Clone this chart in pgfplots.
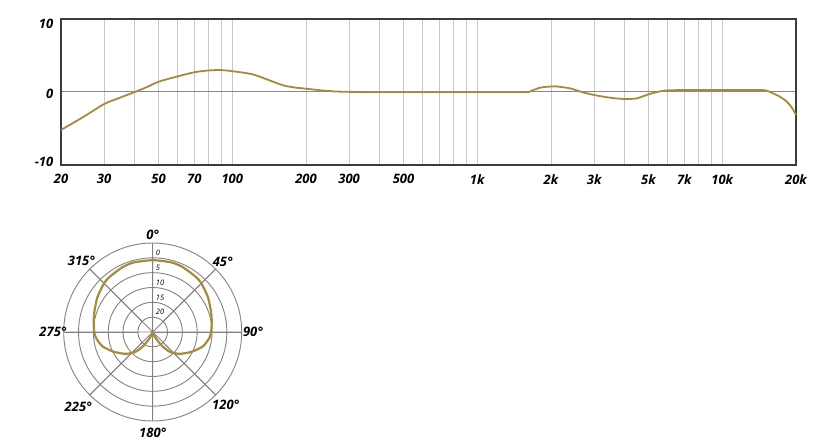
\documentclass[border=0pt]{standalone}
\usepackage{pgfplots}
\pgfplotsset{compat=1.18}
\usepgfplotslibrary{polar}
\usepackage{fontspec}
\setmainfont{Open Sans}

\definecolor{curve}{RGB}{168,138,62}
\definecolor{gridlight}{RGB}{200,200,200}
\definecolor{zeroline}{RGB}{135,135,135}
\definecolor{frame}{RGB}{60,60,60}
\definecolor{polgrid}{RGB}{130,130,130}

\newcommand{\tl}{\fontsize{13}{15}\selectfont\bfseries\itshape}
\newcommand{\rl}{\fontsize{7.5}{9}\selectfont\itshape}

\begin{document}
\begin{tikzpicture}
\path (0,0) rectangle (820pt,442pt);

% frequency response
\begin{semilogxaxis}[
    at={(61pt,277pt)}, anchor=south west,
    scale only axis, width=735pt, height=146pt,
    xmin=20, xmax=20000, ymin=-10, ymax=10,
    xtick={20,30,50,70,100,200,300,500,1000,2000,3000,5000,7000,10000,20000},
    xticklabels={20,30,50,70,100,200,300,500,1k,2k,3k,5k,7k,10k,20k},
    minor xtick={30,40,50,60,70,80,90,100,200,300,400,500,600,700,800,900,1000,2000,3000,4000,5000,6000,7000,8000,9000,10000},
    ytick={-10,0,10}, yticklabel=\empty,
    xminorgrids, ymajorgrids,
    minor grid style={draw=gridlight, line width=1pt},
    major grid style={draw=zeroline, line width=1pt},
    major tick length=0pt, minor tick length=0pt,
    tick label style={font=\tl},
    xticklabel style={anchor=north, yshift=-6pt},
    axis line style={draw=frame, line width=1.5pt},
    clip=false,
]
\addplot[curve, line width=1.8pt, smooth, tension=0.5] coordinates {
    (20,-5.2) (25,-3.3) (30,-1.65) (35,-0.75) (40,0) (45,0.7) (50,1.4)
    (60,2.15) (70,2.7) (80,2.95) (90,3.0) (100,2.85) (120,2.45) (138,1.75)
    (160,0.95) (177,0.65) (200,0.45) (250,0.12) (300,0.02) (400,0)
    (1000,0) (1560,0) (1650,0.12) (1720,0.35) (1800,0.58) (1900,0.7)
    (2000,0.75) (2080,0.78) (2390,0.5) (2670,0) (3000,-0.41) (3480,-0.78)
    (4000,-0.96) (4480,-0.87) (5000,-0.32) (5570,0.09) (6000,0.23)
    (7000,0.26) (10000,0.27) (14200,0.27) (15200,0.18) (16100,-0.18)
    (17200,-0.64) (18300,-1.3) (19200,-2.1) (20000,-3.15)
};
\node[font=\tl, anchor=east, inner sep=0pt, xshift=-7.5pt] at (axis cs:20,9.35) {10};
\node[font=\tl, anchor=east, inner sep=0pt, xshift=-7.5pt] at (axis cs:20,-0.25) {0};
\node[font=\tl, anchor=east, inner sep=0pt, xshift=-7.5pt] at (axis cs:20,-9.55) {-10};
\end{semilogxaxis}

% polar pattern
\begin{polaraxis}[
    at={(152.7pt,110pt)}, anchor=center,
    scale only axis, width=178pt, height=178pt,
    ymin=0, ymax=30,
    xtick={0,45,90,135,180,225,270,315}, xticklabel=\empty,
    ytick={5,10,15,20,25}, yticklabel=\empty,
    ymajorgrids,
    major grid style={draw=polgrid, line width=0.9pt},
    axis line style={draw=polgrid, line width=0.9pt},
    major tick length=0pt,
    clip=false,
]
\pgfplotsinvokeforeach{0,45,90,135,180,225,270,315}{
    \draw[polgrid, line width=0.9pt] (axis cs:#1,5) -- (axis cs:#1,30);
}
\addplot[curve, line width=2.2pt, smooth, tension=0.4] coordinates {
    (-90,0) (-80,0.3) (-70,1.0) (-62,2.8) (-56,5.7) (-49,8.9) (-39,11.7)
    (-27,14.7) (-16,17.6) (-6,19.2) (0,19.7) (10,20.2) (19,20.8) (32,22.0)
    (45,23.2) (52,23.6) (65,24.1) (75,24.3) (90,24.2)
    (105,24.3) (115,24.1) (128,23.6) (135,23.2) (148,22.0) (161,20.8)
    (170,20.2) (180,19.7) (186,19.2) (196,17.6) (207,14.7) (219,11.7)
    (229,8.9) (236,5.7) (242,2.8) (250,1.0) (260,0.3) (270,0)
};
\node[font=\tl] at (axis cs:90,32.8) {0°};
\node[font=\tl] at (axis cs:45,33.4) {45°};
\node[font=\tl] at (axis cs:0,33.8) {90°};
\node[font=\tl] at (axis cs:315,34.8) {120°};
\node[font=\tl] at (axis cs:270,34.1) {180°};
\node[font=\tl] at (axis cs:225,35.5) {225°};
\node[font=\tl] at (axis cs:180,33.6) {275°};
\node[font=\tl] at (axis cs:135,34.0) {315°};
\node[font=\rl, anchor=south west, inner sep=0pt, xshift=3pt, yshift=2pt] at (axis cs:90,25) {0};
\node[font=\rl, anchor=south west, inner sep=0pt, xshift=3pt, yshift=2pt] at (axis cs:90,20) {5};
\node[font=\rl, anchor=south west, inner sep=0pt, xshift=3pt, yshift=2pt] at (axis cs:90,15) {10};
\node[font=\rl, anchor=south west, inner sep=0pt, xshift=3pt, yshift=2pt] at (axis cs:90,10) {15};
\node[font=\rl, anchor=south west, inner sep=0pt, xshift=3pt, yshift=2pt] at (axis cs:90,5) {20};
\end{polaraxis}
\path (0,0) rectangle (820pt,442pt);
\end{tikzpicture}
\end{document}
